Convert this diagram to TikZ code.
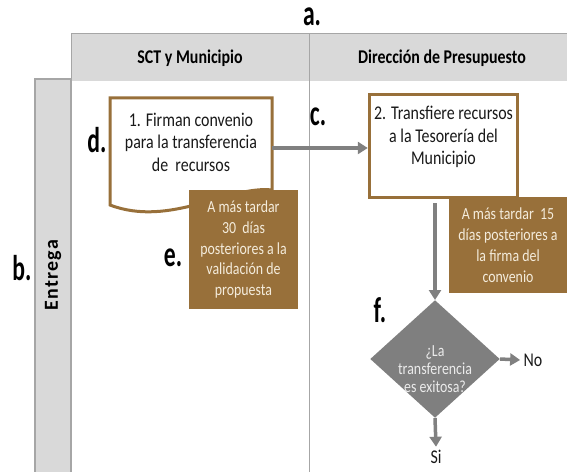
\documentclass[tikz,border=0pt]{standalone}
\usepackage{fontspec}
\setmainfont{Carlito}[FakeStretch=0.82]
\newfontfamily\carrilfont{Carlito}[LetterSpace=6]
\newfontfamily\letrafont{Carlito}[FakeStretch=0.66]
\usetikzlibrary{shapes.geometric,arrows.meta}
\definecolor{cafe}{RGB}{152,112,58}
\definecolor{crema}{RGB}{244,236,220}
\definecolor{carril}{RGB}{217,217,217}
\definecolor{borde}{RGB}{166,166,166}
\definecolor{flecha}{RGB}{128,128,128}
\definecolor{rombo}{RGB}{127,127,127}

\begin{document}
\begin{tikzpicture}[x=1bp, y=-1bp,
	texto/.style={font=\fontsize{19.5}{22.5}\selectfont, align=center, text=black!90},
	encabezado/.style={font=\fontsize{19.5}{22}\selectfont\bfseries},
	letra/.style={font=\letrafont\fontsize{36}{38}\selectfont\bfseries},
	plazo/.style={font=\fontsize{17}{21}\selectfont, align=center, fill=cafe, text=crema},
	flujo/.style={draw=flecha, line width=3.5bp, -{Triangle[length=10bp, width=12bp]}}]
	\useasboundingbox (0,0) rectangle (567,472);
	% carriles
	\fill[carril] (71,34) rectangle (567,81);
	\draw[borde, line width=1bp] (71,81) -- (71,34) -- (567,34);
	\filldraw[fill=carril, draw=borde, line width=1.5bp] (35,79) rectangle (71,474);
	\draw[borde, line width=1bp] (309,34) -- (309,474);
	\node[encabezado] (sct) at (190,58) {SCT y Municipio};
	\node[encabezado] (dp) at (442,58) {Dirección de Presupuesto};
	\node[rotate=90, font={\carrilfont\bfseries\fontsize{20}{24}\selectfont}] (entrega) at (53,275) {Entrega};
	% paso 1
	\draw[cafe, line width=3bp, fill=white] (272,98) -- (110,98) -- (110,205) .. controls (170,228) and (230,185) .. (272,190) -- cycle;
	\node[minimum width=162, minimum height=100,
		label={[texto, yshift=6bp]center:1. Firman convenio\\para la transferencia\\de\ \ recursos}] (firma) at (191,148) {};
	\node[plazo, minimum width=109, minimum height=119] (plazoA) at (243.5,249.5) {A más tardar\\30\ \ días\\posteriores a la\\validación de\\propuesta};
	% paso 2
	\node[draw=cafe, line width=3bp, fill=white, minimum width=149, minimum height=104,
		label={[texto, yshift=9bp]center:2. Transfiere recursos\\a la Tesorería del\\Municipio}] (transfiere) at (443.5,146) {};
	\node[plazo, minimum width=118, minimum height=96] (plazoB) at (508,245) {A más tardar\ \ 15\\días posteriores a\\la firma del\\convenio};
	% decision
	\node[diamond, fill=rombo, inner sep=0pt, minimum width=130, minimum height=118,
		label={[align=center, text=black!8, font=\fontsize{17}{18}\selectfont, yshift=-10bp]center:¿La\\transferencia\\es exitosa?}] (exitosa) at (435,359) {};
	\node[texto] (no) at (533,360) {No};
	\node[texto] (si) at (436,457) {Si};
	% flechas
	\draw[flujo] (firma.east) -- (firma.east -| transfiere.west);
	\draw[flujo, shorten <=4bp] (transfiere.south -| exitosa.north) -- (exitosa.north);
	\draw[flujo] (exitosa.east) -- (no.west);
	\draw[flujo] (exitosa.south) -- (si.north);
	% letras
	\node[letra] (a) at (312,17) {a.};
	\node[letra] (b) at (22,268) {b.};
	\node[letra] (c) at (318,117) {c.};
	\node[letra] (d) at (97,140) {d.};
	\node[letra] (e) at (173,258) {e.};
	\node[letra] (f) at (380,310) {f.};
\end{tikzpicture}
\end{document}
